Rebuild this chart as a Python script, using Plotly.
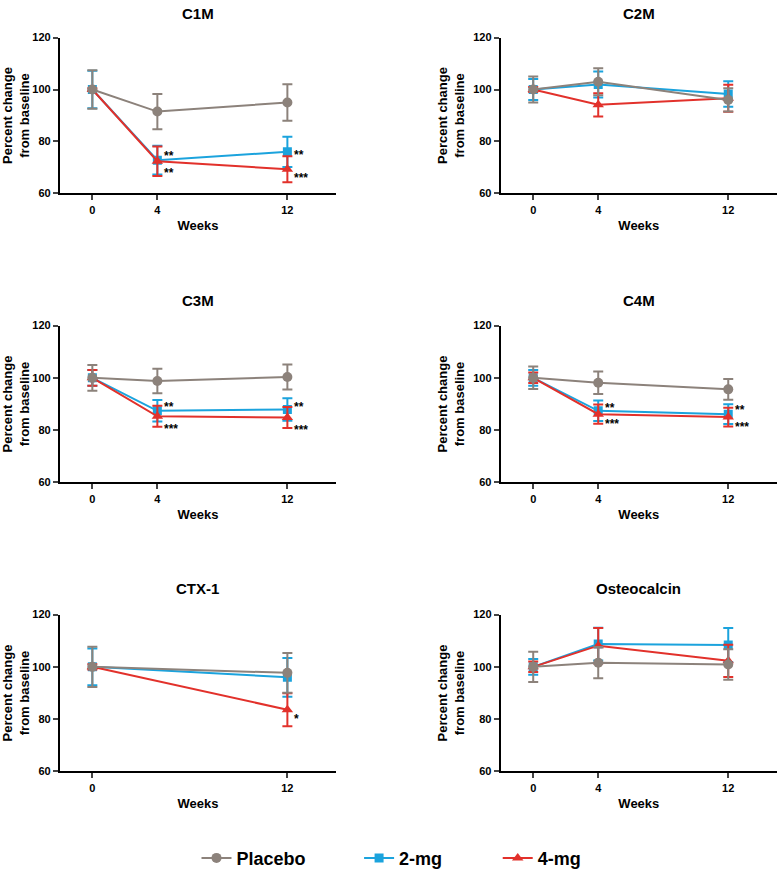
import plotly.graph_objects as go

# ---- data (percent change from baseline, mean and error) ----
panels = ["C1M", "C2M", "C3M", "C4M", "CTX-1", "Osteocalcin"]
weeks = {
    "C1M": [0, 4, 12],
    "C2M": [0, 4, 12],
    "C3M": [0, 4, 12],
    "C4M": [0, 4, 12],
    "CTX-1": [0, 12],
    "Osteocalcin": [0, 4, 12],
}

placebo_mean = {
    "C1M": [100, 91.5, 95.0],
    "C2M": [100, 103.0, 96.0],
    "C3M": [100, 98.8, 100.3],
    "C4M": [100, 98.1, 95.6],
    "CTX-1": [100, 97.7],
    "Osteocalcin": [100, 101.6, 100.9],
}
placebo_err = {
    "C1M": [7.4, 6.8, 7.0],
    "C2M": [5.0, 5.2, 4.5],
    "C3M": [4.9, 4.7, 4.8],
    "C4M": [4.3, 4.3, 4.0],
    "CTX-1": [7.7, 7.6],
    "Osteocalcin": [5.8, 6.0, 5.8],
}

mg2_mean = {
    "C1M": [100, 72.8, 76.0],
    "C2M": [100, 101.9, 98.3],
    "C3M": [100, 87.4, 87.9],
    "C4M": [100, 87.4, 86.1],
    "CTX-1": [100, 96.0],
    "Osteocalcin": [100, 108.7, 108.4],
}
mg2_err = {
    "C1M": [7.2, 5.5, 5.8],
    "C2M": [4.0, 5.0, 4.9],
    "C3M": [3.0, 4.1, 4.3],
    "C4M": [3.0, 3.9, 3.8],
    "CTX-1": [7.0, 7.4],
    "Osteocalcin": [3.0, 6.3, 6.5],
}

mg4_mean = {
    "C1M": [100, 72.4, 69.3],
    "C2M": [100, 94.1, 96.6],
    "C3M": [100, 85.3, 84.8],
    "C4M": [100, 86.1, 85.0],
    "CTX-1": [100, 83.6],
    "Osteocalcin": [100, 108.1, 102.3],
}
mg4_err = {
    "C1M": [0.5, 5.7, 5.0],
    "C2M": [1.0, 4.5, 5.2],
    "C3M": [3.0, 4.0, 4.0],
    "C4M": [2.0, 3.7, 3.6],
    "CTX-1": [1.0, 6.3],
    "Osteocalcin": [2.0, 6.8, 6.2],
}

# significance marks vs placebo
sig_2mg = {
    "C1M": ["", "**", "**"],
    "C3M": ["", "**", "**"],
    "C4M": ["", "**", "**"],
}
sig_4mg = {
    "C1M": ["", "**", "***"],
    "C3M": ["", "***", "***"],
    "C4M": ["", "***", "***"],
    "CTX-1": ["", "*"],
}

# ---- style ----
W, H = 778, 878
FONT = "Liberation Sans, Arial, sans-serif"
colors = {"Placebo": "#8c827b", "2-mg": "#1ba3dd", "4-mg": "#e2312b"}
symbols = {"Placebo": "circle", "2-mg": "square", "4-mg": "triangle-up"}
sizes = {"Placebo": 10, "2-mg": 9, "4-mg": 10}
legend_ids = {"Placebo": "legend", "2-mg": "legend2", "4-mg": "legend3"}

col_px = [(58, 335), (500, 777)]
row_px = [(32, 190), (324, 483), (617, 776)]
title_px = [7.5, 299, 591]

# pixel nudges of the asterisks (up +, down -)
shift_2mg = {"C1M": [0, 4, -3], "C3M": [0, 4, 2], "C4M": [0, 3, 4]}
shift_4mg = {"C1M": [0, -12, -9], "C3M": [0, -13, -12], "C4M": [0, -10, -10], "CTX-1": [0, -9]}

fig = go.Figure()

series = [
    ("2-mg", mg2_mean, mg2_err),
    ("4-mg", mg4_mean, mg4_err),
    ("Placebo", placebo_mean, placebo_err),
]

annotations = []
for i, p in enumerate(panels):
    r, c = divmod(i, 2)
    ax = "" if i == 0 else str(i + 1)
    x0, x1 = col_px[c]
    y0, y1 = row_px[r]
    xdom = [x0 / W, x1 / W]
    ydom = [1 - y1 / H, 1 - y0 / H]

    for name, mean, err in series:
        fig.add_trace(go.Scatter(
            x=weeks[p], y=mean[p],
            error_y=dict(type="data", array=err[p], color=colors[name],
                         thickness=2, width=5),
            mode="lines+markers",
            line=dict(color=colors[name], width=2),
            marker=dict(symbol=symbols[name], size=sizes[name], color=colors[name]),
            name=name,
            legend=legend_ids[name],
            showlegend=(i == 0),
            xaxis="x" + ax, yaxis="y" + ax,
        ))

    fig.layout["xaxis" + ax] = dict(
        domain=xdom, anchor="y" + ax, range=[-2, 15],
        tickvals=weeks[p], ticks="outside", ticklen=5, tickwidth=2,
        showline=True, linewidth=2, linecolor="black", showgrid=False, zeroline=False,
        tickfont=dict(family=FONT, size=11, color="black", weight="bold"),
        title=dict(text="Weeks", standoff=6,
                   font=dict(family=FONT, size=13, color="black", weight="bold")),
    )
    fig.layout["yaxis" + ax] = dict(
        domain=ydom, anchor="x" + ax, range=[60, 120],
        tickvals=[60, 80, 100, 120], ticks="outside", ticklen=5, tickwidth=2,
        showline=True, linewidth=2, linecolor="black", showgrid=False, zeroline=False,
        tickfont=dict(family=FONT, size=11, color="black", weight="bold"),
        title=dict(text="Percent change<br>from baseline", standoff=6,
                   font=dict(family=FONT, size=13, color="black", weight="bold")),
    )

    annotations.append(dict(
        text=p, x=(xdom[0] + xdom[1]) / 2, y=1 - title_px[r] / H,
        xref="paper", yref="paper", xanchor="center", yanchor="middle", showarrow=False,
        font=dict(family=FONT, size=15, color="black", weight="bold"),
    ))

    for sig, mean, shifts in [(sig_2mg, mg2_mean, shift_2mg), (sig_4mg, mg4_mean, shift_4mg)]:
        if p not in sig:
            continue
        for k, txt in enumerate(sig[p]):
            if not txt:
                continue
            annotations.append(dict(
                text=txt, x=weeks[p][k], y=mean[p][k],
                xref="x" + ax, yref="y" + ax, xanchor="left", yanchor="middle",
                xshift=5, yshift=shifts[p][k], showarrow=False,
                font=dict(family=FONT, size=12, color="black", weight="bold"),
            ))

legend_style = dict(
    orientation="h", xanchor="left", yanchor="middle", y=1 - 864 / H,
    bgcolor="rgba(0,0,0,0)", itemwidth=30,
    font=dict(family=FONT, size=18, color="black", weight="bold"),
)
fig.update_layout(
    width=W, height=H,
    margin=dict(l=0, r=0, t=0, b=0),
    paper_bgcolor="white", plot_bgcolor="white",
    font=dict(family=FONT, color="black"),
    annotations=annotations,
    legend=dict(legend_style, x=195 / W),
    legend2=dict(legend_style, x=358 / W),
    legend3=dict(legend_style, x=497 / W),
)

# page body has a default 8px margin; drop it so the figure sits at the corner
fig.write_html("out.html", config={"displayModeBar": False},
               post_script="document.body.style.margin='0';")
